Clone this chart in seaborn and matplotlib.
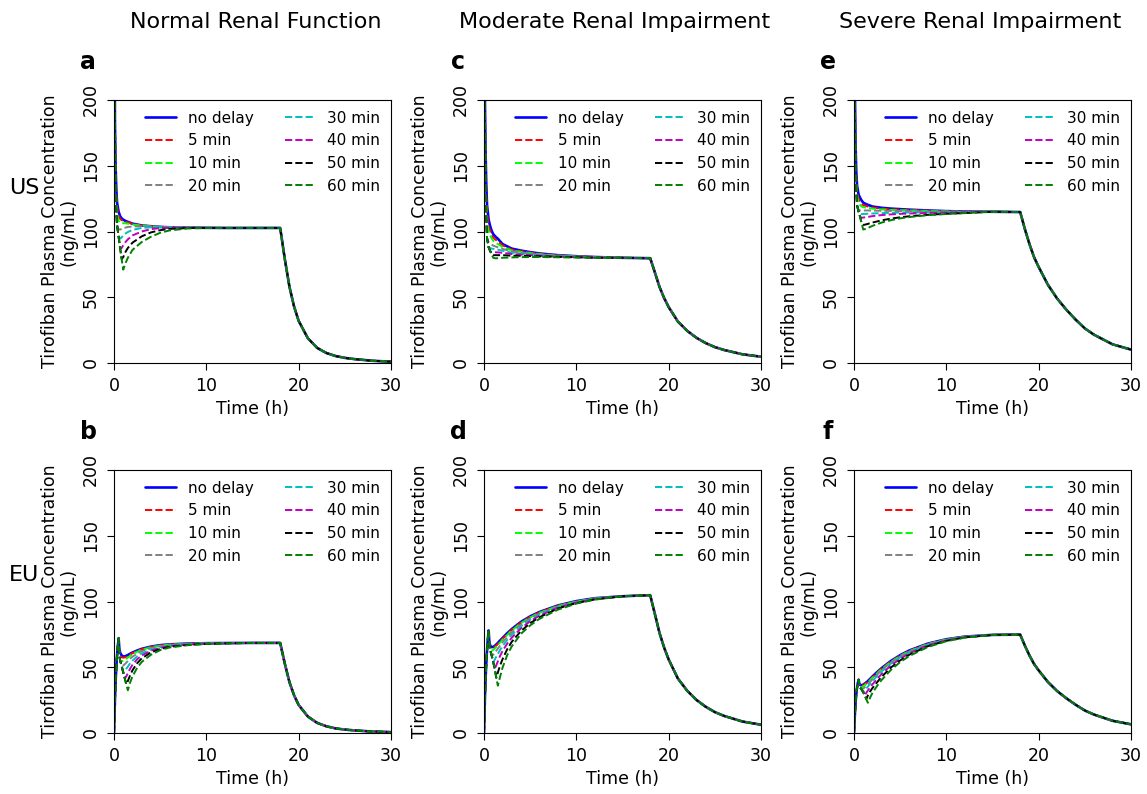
import matplotlib
matplotlib.use("Agg")
import matplotlib.pyplot as plt
import seaborn as sns

# time grids (h)
t_us = [0, 0.1, 0.17, 0.25, 0.33, 0.5, 0.67, 0.83, 1.0, 1.25, 1.5, 2, 3, 4, 5, 6, 8, 10, 12]
t_eu = [0, 0.1, 0.2, 0.3, 0.4, 0.5, 0.58, 0.67, 0.83, 1.0, 1.17, 1.33, 1.5, 1.75, 2, 2.5, 3, 4, 5, 6, 8, 10, 12]
t_tail = [15, 18, 18.5, 19, 19.5, 20, 21, 22, 23, 24, 25, 26, 28, 30]

delay_labels = ["no delay", "5 min", "10 min", "20 min", "30 min", "40 min", "50 min", "60 min"]
delay_colors = ["blue", "red", "lime", "grey", "c", "m", "k", "g"]

# --- US regimen, normal renal function (a) ---
conc_a = [
    [480, 185, 150, 132, 122, 115, 111.5, 110, 109, 108, 107.3, 106, 104.6, 104, 103.5, 103.2, 103, 102.8, 102.7],
    [480, 182, 146, 128, 119, 112, 109.5, 108.6, 108, 107.4, 106.9, 105.8, 104.6, 104, 103.5, 103.2, 103, 102.8, 102.7],
    [480, 180, 138, 122, 114, 108, 106.5, 106.3, 106.3, 106.2, 106, 105.4, 104.5, 104, 103.5, 103.2, 103, 102.8, 102.7],
    [480, 180, 138, 116, 105, 101.5, 101.5, 102, 102.5, 103, 103.4, 103.8, 104, 103.8, 103.5, 103.2, 103, 102.8, 102.7],
    [480, 180, 138, 116, 105, 96, 94.5, 95.5, 97, 98.5, 99.6, 101.2, 102.7, 103.2, 103.3, 103.1, 103, 102.8, 102.7],
    [480, 180, 138, 116, 105, 96, 87, 87.5, 89.5, 92, 94, 97, 100, 101.8, 102.6, 102.9, 102.9, 102.8, 102.7],
    [480, 180, 138, 116, 105, 96, 87, 79, 80.5, 84.5, 87.5, 91.5, 96.3, 99.3, 101, 102, 102.6, 102.7, 102.7],
    [480, 180, 138, 116, 105, 96, 87, 79, 71, 76, 80, 86, 92, 96, 99, 100.8, 102.3, 102.6, 102.7],
]
tail_a = [102.7, 102.7, 79, 58, 43, 32, 18.8, 11.5, 7.6, 5.3, 3.9, 3.0, 1.7, 1.0]

# --- EU regimen, normal renal function (b) ---
conc_b = [
    [0, 25, 43, 56, 65, 72, 64, 61, 59, 58.3, 58.3, 58.7, 59.3, 60.3, 61.2, 62.7, 64, 65.7, 66.8, 67.4, 68, 68.3, 68.4],
    [0, 25, 43, 56, 65, 72, 59, 58, 57.5, 57.3, 57.5, 58, 58.6, 59.7, 60.7, 62.3, 63.7, 65.5, 66.6, 67.3, 67.9, 68.2, 68.4],
    [0, 25, 43, 56, 65, 72, 59, 55, 54.5, 55, 55.6, 56.4, 57.3, 58.7, 59.9, 61.8, 63.3, 65.2, 66.4, 67.2, 67.8, 68.2, 68.4],
    [0, 25, 43, 56, 65, 72, 59, 55, 51, 51.3, 52.3, 53.5, 54.7, 56.5, 58, 60.3, 62.2, 64.6, 66, 66.9, 67.7, 68.1, 68.3],
    [0, 25, 43, 56, 65, 72, 59, 55, 51, 46, 47, 48.8, 50.5, 53, 55, 58.2, 60.5, 63.6, 65.3, 66.5, 67.5, 68, 68.3],
    [0, 25, 43, 56, 65, 72, 59, 55, 51, 46, 41.5, 43, 45.5, 49, 51.8, 56, 58.9, 62.6, 64.7, 66.1, 67.3, 67.9, 68.2],
    [0, 25, 43, 56, 65, 72, 59, 55, 51, 46, 41.5, 37, 39.5, 44, 47.7, 53, 56.7, 61.3, 63.9, 65.5, 67, 67.8, 68.2],
    [0, 25, 43, 56, 65, 72, 59, 55, 51, 46, 41.5, 37, 32.5, 38.5, 43, 49.5, 54, 59.5, 63, 65, 66.8, 67.7, 68.1],
]
tail_b = [68.5, 68.5, 52.7, 38.7, 28.7, 21.3, 12.5, 7.7, 5.1, 3.5, 2.6, 2.0, 1.1, 0.7]

# --- US regimen, moderate renal impairment (c) ---
conc_c = [
    [480, 200, 160, 135, 120, 109, 104, 100.5, 98, 96, 94.5, 90.5, 87, 85.5, 84.3, 83.3, 82, 81.2, 80.6],
    [480, 196, 154, 128, 114, 104.5, 100.5, 97.5, 95.5, 93.8, 92.5, 89.5, 86.3, 85, 84, 83.1, 81.9, 81.1, 80.6],
    [480, 190, 140, 118, 108, 100, 97, 94.8, 93, 91.5, 90.5, 88.3, 85.6, 84.5, 83.6, 82.8, 81.7, 81, 80.5],
    [480, 190, 140, 110, 95, 92, 91, 90, 89.3, 88.6, 88, 86.8, 84.8, 83.8, 83.1, 82.4, 81.5, 80.9, 80.4],
    [480, 190, 140, 110, 95, 88, 87.5, 87, 86.8, 86.5, 86.2, 85.4, 83.9, 83.1, 82.6, 82, 81.2, 80.7, 80.3],
    [480, 190, 140, 110, 95, 88, 85, 84.5, 84.3, 84.2, 84.1, 83.8, 82.9, 82.4, 82, 81.6, 81, 80.5, 80.2],
    [480, 190, 140, 110, 95, 88, 85, 82.5, 82, 82, 82, 82, 81.6, 81.5, 81.3, 81.1, 80.7, 80.4, 80.1],
    [480, 190, 140, 110, 95, 88, 85, 82.5, 80, 79.6, 79.7, 80, 80.3, 80.5, 80.6, 80.6, 80.4, 80.2, 80],
]
tail_c = [80.0, 79.7, 69, 58, 49.5, 42.5, 31.5, 24.5, 19.2, 15.2, 12.1, 9.9, 6.6, 4.8]

# --- EU regimen, moderate renal impairment (d) ---
conc_d = [
    [0, 27, 46, 60, 70, 78, 69, 66.5, 65.3, 65.5, 66.3, 67.3, 68.5, 70.4, 72.2, 75.8, 79, 84.5, 88.7, 92, 97, 100.3, 102.5],
    [0, 27, 46, 60, 70, 78, 67, 65, 64.5, 64.8, 65.6, 66.6, 67.8, 69.8, 71.6, 75.2, 78.5, 84, 88.3, 91.7, 96.8, 100.1, 102.4],
    [0, 27, 46, 60, 70, 78, 67, 63, 62.5, 63.2, 64.3, 65.5, 66.8, 68.9, 70.8, 74.5, 77.9, 83.5, 87.9, 91.4, 96.6, 100, 102.3],
    [0, 27, 46, 60, 70, 78, 67, 63, 59, 59.5, 61, 62.6, 64.2, 66.6, 68.8, 72.8, 76.4, 82.4, 87.1, 90.7, 96.2, 99.7, 102.1],
    [0, 27, 46, 60, 70, 78, 67, 63, 59, 54, 55.8, 58, 60.2, 63.3, 66, 70.6, 74.6, 81.1, 86.1, 90, 95.8, 99.5, 102],
    [0, 27, 46, 60, 70, 78, 67, 63, 59, 54, 48.5, 51.5, 54.5, 58.8, 62.3, 67.8, 72.4, 79.6, 85, 89.2, 95.3, 99.2, 101.8],
    [0, 27, 46, 60, 70, 78, 67, 63, 59, 54, 48.5, 42, 46, 51.5, 56, 63.5, 69.3, 77.5, 83.5, 88, 94.7, 98.8, 101.6],
    [0, 27, 46, 60, 70, 78, 67, 63, 59, 54, 48.5, 42, 36, 43, 49.5, 59, 65.8, 75.4, 81.8, 86.8, 93.8, 98.4, 101.4],
]
tail_d = [104, 104.8, 90.7, 76.3, 65.1, 55.9, 41.4, 32.2, 25.2, 20, 15.9, 13, 8.7, 6.3]

# --- US regimen, severe renal impairment (e) ---
conc_e = [
    [480, 205, 165, 145, 135, 128, 125.5, 123.5, 122, 121, 120.3, 119, 118, 117.4, 117, 116.6, 116, 115.5, 115.2],
    [480, 200, 158, 140, 131, 124.5, 122.5, 121, 120, 119.5, 119, 118.2, 117.4, 116.9, 116.6, 116.3, 115.8, 115.4, 115.1],
    [480, 195, 150, 136, 128, 121.5, 120, 119, 118.5, 118.2, 117.9, 117.4, 116.8, 116.4, 116.2, 116, 115.6, 115.3, 115],
    [480, 195, 150, 132, 120, 116.5, 116, 116, 116, 116, 116, 115.9, 115.7, 115.6, 115.5, 115.4, 115.2, 115, 114.9],
    [480, 195, 150, 132, 120, 115, 113.5, 113.3, 113.3, 113.4, 113.5, 113.7, 114, 114.2, 114.4, 114.5, 114.6, 114.7, 114.7],
    [480, 195, 150, 132, 120, 115, 111, 110.5, 110.6, 110.8, 111.1, 111.7, 112.5, 113, 113.4, 113.7, 114.1, 114.4, 114.6],
    [480, 195, 150, 132, 120, 115, 111, 106, 105, 105.3, 105.8, 106.8, 108.5, 109.8, 110.8, 111.6, 112.7, 113.5, 114],
    [480, 195, 150, 132, 120, 115, 111, 106, 101.5, 102, 102.7, 104.3, 106.8, 108.6, 110, 111, 112.4, 113.3, 114],
]
tail_e = [115.0, 114.8, 102, 90.5, 80.5, 73, 59.5, 49, 40.5, 33, 26.3, 21.5, 14.2, 10.2]

# --- EU regimen, severe renal impairment (f) ---
conc_f = [
    [0, 15, 26, 33, 37.5, 40.5, 37.5, 36.5, 36.3, 36.8, 37.6, 38.5, 39.5, 41.2, 43, 46.3, 49.4, 54.8, 59.2, 62.8, 68, 71.3, 73.3],
    [0, 15, 26, 33, 37.5, 40.5, 36, 35.8, 35.8, 36.3, 37.1, 38, 39, 40.7, 42.5, 45.8, 49, 54.4, 58.9, 62.5, 67.8, 71.2, 73.2],
    [0, 15, 26, 33, 37.5, 40.5, 36, 34.5, 34.8, 35.5, 36.4, 37.4, 38.4, 40.2, 42, 45.3, 48.6, 54.1, 58.6, 62.3, 67.7, 71.1, 73.2],
    [0, 15, 26, 33, 37.5, 40.5, 36, 34.5, 33, 33.8, 34.8, 35.9, 37, 38.9, 40.8, 44.4, 47.8, 53.5, 58.1, 61.9, 67.4, 70.9, 73.1],
    [0, 15, 26, 33, 37.5, 40.5, 36, 34.5, 33, 31, 32.4, 33.8, 35.2, 37.4, 39.5, 43.3, 46.9, 52.8, 57.6, 61.4, 67.1, 70.7, 73],
    [0, 15, 26, 33, 37.5, 40.5, 36, 34.5, 33, 31, 28.5, 30.5, 32.3, 34.8, 37, 41.1, 45, 51.4, 56.5, 60.6, 66.6, 70.4, 72.9],
    [0, 15, 26, 33, 37.5, 40.5, 36, 34.5, 33, 31, 28.5, 25.8, 28.5, 31.6, 34.2, 38.6, 42.8, 49.8, 55.2, 59.6, 66, 70.1, 72.7],
    [0, 15, 26, 33, 37.5, 40.5, 36, 34.5, 33, 31, 28.5, 25.8, 23, 27, 30.5, 35.8, 40.4, 48, 53.9, 58.6, 65.4, 69.8, 72.5],
]
tail_f = [74.6, 74.8, 66.5, 59, 52.5, 47.6, 38.8, 31.9, 26.4, 21.5, 17.1, 14, 9.3, 6.6]

col_titles = ["Normal Renal Function", "Moderate Renal Impairment", "Severe Renal Impairment"]
row_titles = ["US", "EU"]

sns.set_style("ticks", {"axes.edgecolor": "black", "xtick.color": "black",
                        "ytick.color": "black", "text.color": "black",
                        "axes.labelcolor": "black"})
plt.rcParams["font.family"] = ["DejaVu Sans"]

W, H = 1147, 794
fig = plt.figure(figsize=(W / 100, H / 100), dpi=100)

lefts = [114, 484, 854]
tops = [100, 470]
aw, ah = 277, 263

panels = [
    ("a", 0, 0, t_us, conc_a, tail_a),
    ("b", 1, 0, t_eu, conc_b, tail_b),
    ("c", 0, 1, t_us, conc_c, tail_c),
    ("d", 1, 1, t_eu, conc_d, tail_d),
    ("e", 0, 2, t_us, conc_e, tail_e),
    ("f", 1, 2, t_eu, conc_f, tail_f),
]

for letter, r, c, t_early, curves, tail in panels:
    ax = fig.add_axes([lefts[c] / W, 1 - (tops[r] + ah) / H, aw / W, ah / H])
    tt = t_early + t_tail
    for i, vals in enumerate(curves):
        sns.lineplot(x=tt, y=vals + tail, ax=ax, color=delay_colors[i],
                     linestyle="-" if i == 0 else "--",
                     linewidth=1.9 if i == 0 else 1.4,
                     label=delay_labels[i], sort=False)
    ax.set_xlim(0, 30)
    ax.set_ylim(0, 200)
    ax.set_xticks([0, 10, 20, 30])
    ax.set_yticks([0, 50, 100, 150, 200])
    ax.tick_params(labelsize=12.5, length=5, pad=5)
    for lab in ax.get_yticklabels():
        lab.set_rotation(90)
        lab.set_va("center")
    ax.set_xlabel("Time (h)", fontsize=12.5, labelpad=4)
    ax.set_ylabel("Tirofiban Plasma Concentration\n(ng/mL)", fontsize=12.5,
                  labelpad=3, linespacing=1.1)
    ax.legend(ncol=2, frameon=False, fontsize=11, loc="upper right",
              borderaxespad=0.3)
    fig.text((lefts[c] - 26) / W, 1 - (tops[r] - 38) / H, letter,
             fontsize=17, fontweight="bold", ha="center", va="center")

title_x = [256, 615, 980]
for x, title in zip(title_x, col_titles):
    fig.text(x / W, 1 - 22 / H, title, fontsize=16, ha="center", va="center")

fig.text(24 / W, 1 - 188 / H, row_titles[0], fontsize=16, ha="center", va="center")
fig.text(24 / W, 1 - 575 / H, row_titles[1], fontsize=16, ha="center", va="center")

fig.savefig("out.png", dpi=100)
